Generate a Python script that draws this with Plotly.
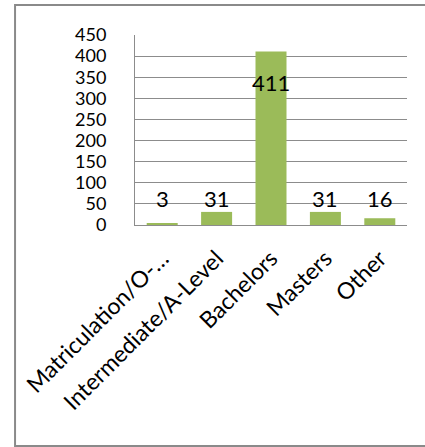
import plotly.graph_objects as go

# Education level counts
categories = ["Matriculation/O-…", "Intermediate/A-Level", "Bachelors", "Masters", "Other"]
counts = [3, 31, 411, 31, 16]
y_ticks = list(range(0, 451, 50))

BAR_COLOR = "#9BBB59"
GRID_COLOR = "#8C8C8C"
FONT = "Lato, 'Open Sans', sans-serif"

fig = go.Figure(
    go.Bar(
        x=categories,
        y=counts,
        marker=dict(color=BAR_COLOR, line=dict(width=0)),
        hoverinfo="skip",
    )
)

# Value labels: short bars get a label floating above, the tall bar inside its top
for cat, val in zip(categories, counts):
    if val > 200:
        fig.add_annotation(x=cat, y=val, text=str(val), showarrow=False,
                           yanchor="top", yshift=-16,
                           font=dict(family=FONT, size=22, color="#000000"))
    else:
        fig.add_annotation(x=cat, y=62, text=str(val), showarrow=False,
                           yanchor="middle",
                           font=dict(family=FONT, size=22, color="#000000"))

# Outer chart frame
fig.add_shape(type="rect", xref="paper", yref="paper",
              x0=-0.441, x1=1.3, y0=-1.163, y1=1.158,
              line=dict(color="#8A8A8A", width=2), fillcolor="rgba(0,0,0,0)")

fig.update_layout(
    width=425,
    height=447,
    margin=dict(l=135, r=18, t=35, b=222),
    paper_bgcolor="white",
    plot_bgcolor="white",
    bargap=0.43,
    showlegend=False,
    font=dict(family=FONT, color="#000000"),
    xaxis=dict(
        tickangle=-45,
        tickfont=dict(size=23),
        showline=True,
        linecolor=GRID_COLOR,
        linewidth=1,
        showgrid=False,
        ticks="",
        ticklabelstandoff=10,
    ),
    yaxis=dict(
        range=[0, 450],
        tickvals=y_ticks,
        tickfont=dict(size=18),
        showgrid=True,
        gridcolor=GRID_COLOR,
        gridwidth=1,
        showline=True,
        linecolor=GRID_COLOR,
        linewidth=1,
        zeroline=False,
        ticks="",
        ticklabelstandoff=24,
    ),
)

fig.write_html("out.html")
